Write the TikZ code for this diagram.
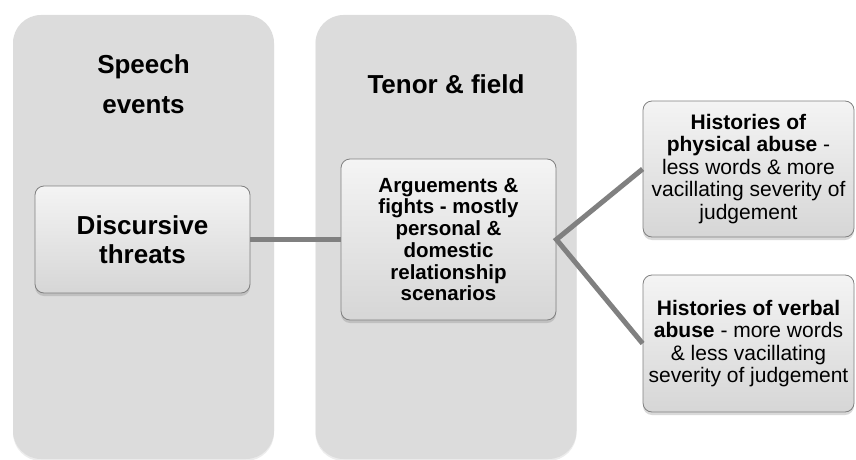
\documentclass[tikz,border=0pt]{standalone}
\usepackage{fontspec}
\setmainfont{Liberation Sans}
\usetikzlibrary{shadows}
\definecolor{colfill}{HTML}{DCDCDC}
\definecolor{linkgray}{HTML}{808080}
\definecolor{boxtop}{HTML}{F4F4F4}
\definecolor{boxbottom}{HTML}{D6D6D6}
\begin{document}
\begin{tikzpicture}[x=1pt, y=-1pt,
  column/.style = {shape=rectangle, rounded corners=28pt, fill=colfill,
    minimum width=261pt, minimum height=444pt, inner sep=0pt,
    drop shadow={opacity=0.15, shadow xshift=0pt, shadow yshift=-2pt}},
  title/.style = {align=center, font=\bfseries\fontsize{26}{40}\selectfont},
  box/.style = {shape=rectangle, rounded corners=9pt, draw=linkgray,
    line width=0.8pt, align=center, inner sep=0pt,
    top color=boxtop, bottom color=boxbottom,
    drop shadow={opacity=0.3, shadow xshift=0pt, shadow yshift=-3pt}},
  link/.style = {draw=linkgray, line width=5pt}]
  \useasboundingbox (0,0) rectangle (856,460);
  % the two columns
  \node[column] (speechcol) at (143.5,237) {};
  \node[column] (tenorcol) at (446,237) {};
  \node[title] (speechtitle) at (143.5,84) {Speech\\events};
  \node[title] (tenortitle) at (446,84) {Tenor \& field};
  % boxes
  \node[box, minimum width=215pt, minimum height=107pt,
    font=\bfseries\fontsize{26}{29}\selectfont] (threats) at (142.5,239.5)
    {Discursive\\threats};
  \node[box, minimum width=215pt, minimum height=161pt,
    font=\bfseries\fontsize{20.5}{21.7}\selectfont] (args) at (448.5,239.5)
    {Arguements \&\\fights - mostly\\personal \&\\domestic\\relationship\\scenarios};
  \node[box, minimum width=211pt, minimum height=136pt,
    font=\fontsize{21}{22.5}\selectfont] (physical) at (748.5,169)
    {\textbf{Histories of}\\\textbf{physical abuse} -\\less words \& more\\vacillating severity of\\judgement};
  \node[box, minimum width=211pt, minimum height=137pt,
    font=\fontsize{21}{22.5}\selectfont] (verbal) at (748.5,343.5)
    {\textbf{Histories of verbal}\\\textbf{abuse} - more words\\\& less vacillating\\severity of judgement};
  % connectors
  \draw[link] (threats.east) -- (args.west);
  \draw[link] (physical.west) -- (args.east) -- (verbal.west);
\end{tikzpicture}
\end{document}
